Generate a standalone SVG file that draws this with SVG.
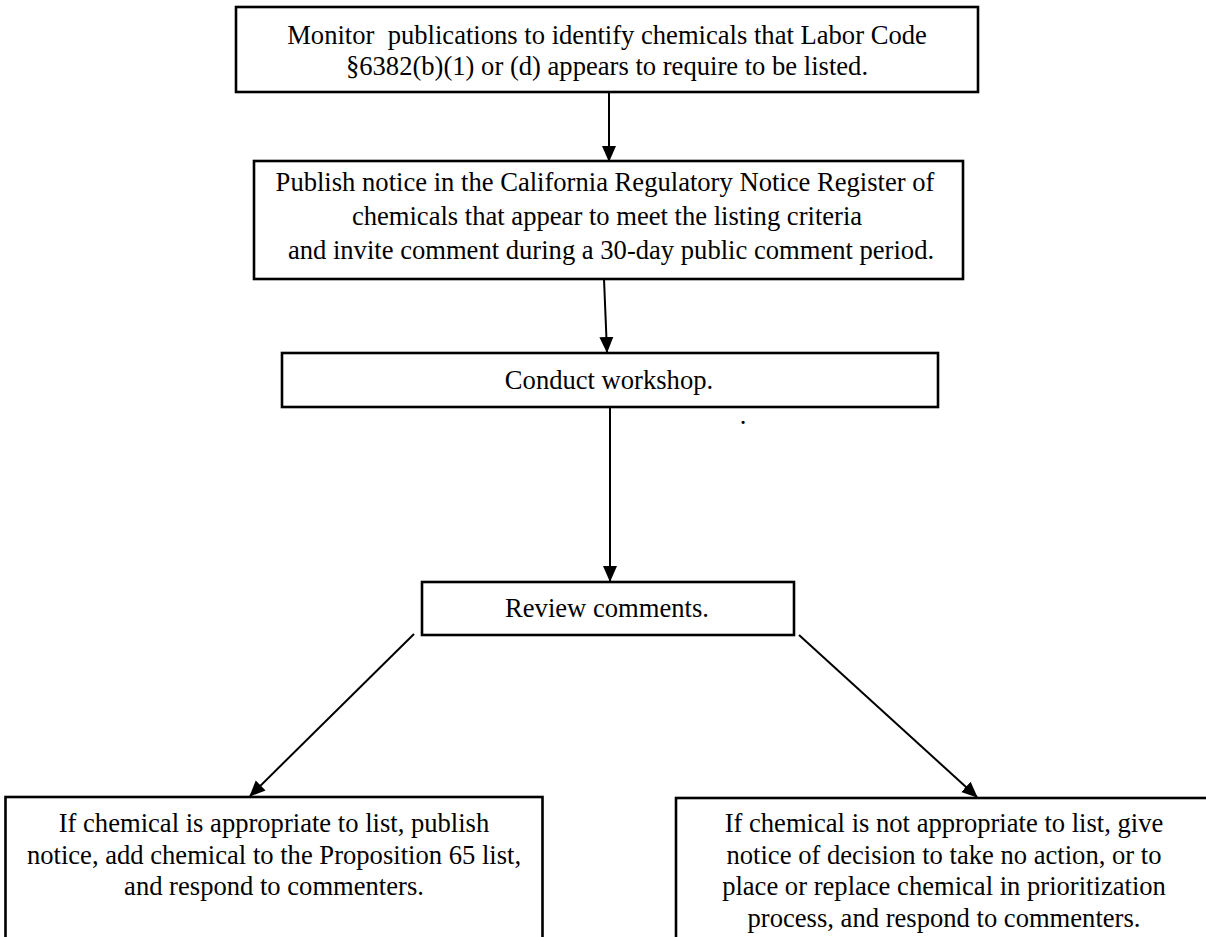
<svg xmlns="http://www.w3.org/2000/svg" width="1206" height="937" viewBox="0 0 1206 937">
<style>
.box{fill:#fff;stroke:#000;stroke-width:2.6}
.t{font-family:"Liberation Serif","Times New Roman",serif;font-size:26.6px;fill:#000;text-anchor:middle}
.c{stroke:#000;stroke-width:2;fill:none;marker-end:url(#ah)}
</style>
<defs>
<marker id="ah" markerUnits="userSpaceOnUse" markerWidth="16" markerHeight="16" viewBox="0 0 16 14" refX="15" refY="7" orient="auto">
<path d="M0,0 L16,7 L0,14 Z" fill="#000"/>
</marker>
</defs>
<rect width="1206" height="937" fill="#fff"/>
<g id="connectors">
<line class="c" x1="609" y1="92" x2="609" y2="161"/>
<line class="c" x1="604" y1="279" x2="607" y2="352"/>
<line class="c" x1="610" y1="407" x2="610" y2="581"/>
<line class="c" x1="414" y1="634" x2="250" y2="796"/>
<line class="c" x1="799" y1="635" x2="977" y2="797"/>
</g>
<g id="n1">
<rect class="box" x="236" y="7" width="742" height="85"/>
<text class="t" x="607" y="43.5" xml:space="preserve">Monitor  publications to identify chemicals that Labor Code</text>
<text class="t" x="607" y="75">§6382(b)(1) or (d) appears to require to be listed.</text>
</g>
<g id="n2">
<rect class="box" x="254" y="161" width="709" height="118"/>
<text class="t" x="605" y="191">Publish notice in the California Regulatory Notice Register of</text>
<text class="t" x="607" y="225">chemicals that appear to meet the listing criteria</text>
<text class="t" x="611" y="259">and invite comment during a 30-day public comment period.</text>
</g>
<g id="n3">
<rect class="box" x="282" y="353" width="656" height="54"/>
<text class="t" x="609" y="389">Conduct workshop.</text>
<text class="t" x="743" y="424">.</text>
</g>
<g id="n4">
<rect class="box" x="422" y="582" width="372" height="53"/>
<text class="t" x="607" y="617">Review comments.</text>
</g>
<g id="n5">
<rect class="box" x="5.5" y="797" width="537" height="160"/>
<text class="t" x="274" y="832">If chemical is appropriate to list, publish</text>
<text class="t" x="274" y="863.5">notice, add chemical to the Proposition 65 list,</text>
<text class="t" x="274" y="895">and respond to commenters.</text>
</g>
<g id="n6">
<rect class="box" x="676" y="798" width="540" height="160"/>
<text class="t" x="944" y="832">If chemical is not appropriate to list, give</text>
<text class="t" x="944" y="863.5">notice of decision to take no action, or to</text>
<text class="t" x="944" y="895">place or replace chemical in prioritization</text>
<text class="t" x="944" y="927">process, and respond to commenters.</text>
</g>
</svg>
